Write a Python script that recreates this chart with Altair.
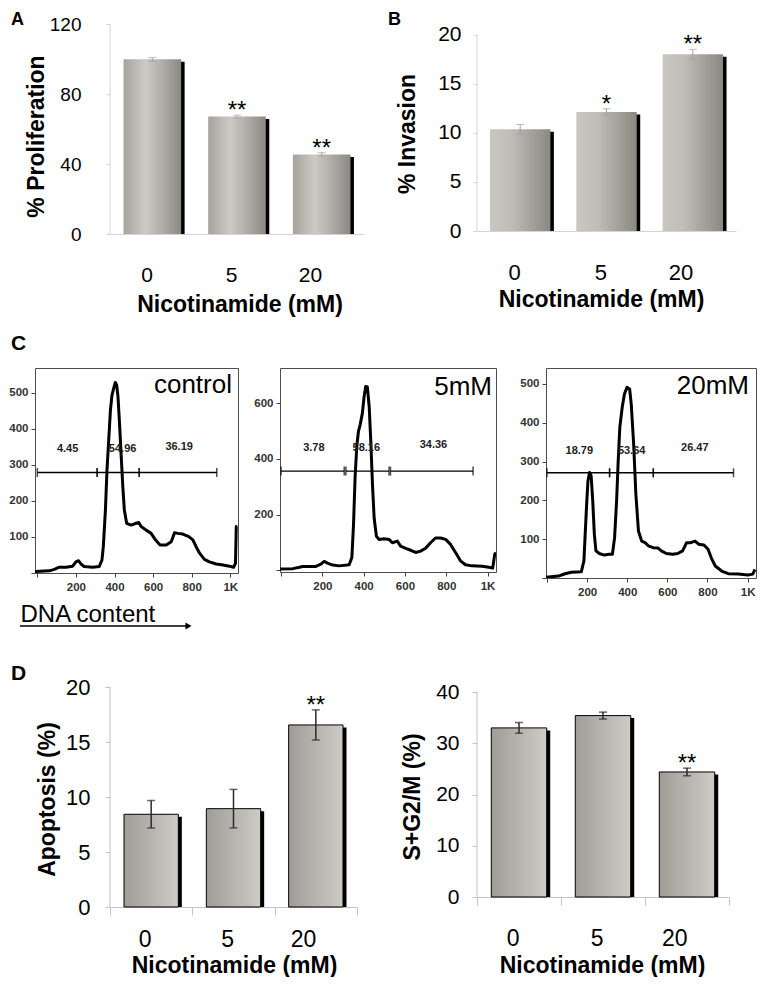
import altair as alt
import pandas as pd

FONT = "Liberation Sans"

# ---------------- bar panels (A, B, D) ----------------
doses = ["0", "5", "20"]

prolif_mean = [99.8, 67.1, 45.5]
prolif_err = [1.0, 0.8, 0.95]
prolif_sig = ["", "**", "**"]

inv_mean = [10.37, 12.14, 18.03]
inv_err = [0.5, 0.33, 0.5]
inv_sig = ["", "*", "**"]

apo_mean = [8.43, 8.94, 16.55]
apo_err = [1.25, 1.75, 1.37]
apo_sig = ["", "", "**"]

sg_mean = [33.0, 35.4, 24.4]
sg_err = [1.05, 0.68, 0.75]
sg_sig = ["", "", "**"]

# ---------------- cell-cycle histograms (C) ----------------
ctrl_x = [-12, 62, 88, 114, 148, 183, 200, 214, 226, 243, 287, 321, 335, 342, 353, 361, 370, 379,
          387, 396, 404, 411, 418, 425, 434, 443, 451, 463, 486, 512, 526, 538, 564, 590, 612, 636,
          668, 694, 711, 728, 754, 785, 806, 823, 841, 866, 892, 927, 962, 996, 1017, 1027, 1031, 1036]
ctrl_y = [4, 6, 10, 16, 16, 19, 31, 34, 25, 18, 16, 18, 36, 73, 175, 286, 369, 453,
          494, 513, 529, 522, 490, 425, 332, 240, 175, 138, 133, 138, 140, 129, 119, 110, 92, 78,
          78, 87, 112, 110, 108, 101, 92, 73, 55, 38, 31, 25, 22, 19, 16, 27, 129, 129]

mm5_x = [-5, 57, 89, 105, 169, 193, 209, 225, 250, 282, 330, 343, 351, 359, 367, 375, 383, 394,
         402, 410, 418, 427, 435, 443, 451, 462, 475, 499, 523, 539, 563, 579, 604, 628, 652, 676,
         700, 724, 748, 772, 797, 821, 845, 869, 893, 925, 974, 1006, 1025, 1035, 1040]
mm5_y = [5, 6, 11, 14, 14, 22, 32, 26, 19, 16, 20, 46, 164, 340, 446, 499, 522, 564,
         622, 660, 658, 587, 458, 305, 187, 122, 111, 113, 111, 99, 105, 87, 79, 72, 64, 69,
         79, 99, 116, 116, 111, 93, 64, 34, 20, 16, 15, 11, 8, 58, 64]

mm20_x = [-5, 57, 90, 122, 171, 184, 196, 204, 212, 220, 228, 236, 244, 261, 285, 310, 326, 337,
          347, 355, 363, 375, 386, 399, 412, 420, 432, 443, 456, 472, 489, 505, 529, 554, 570, 595,
          627, 652, 676, 696, 717, 738, 757, 782, 803, 819, 839, 871, 904, 953, 1002, 1026, 1037]
mm20_y = [2, 5, 11, 15, 16, 44, 173, 250, 272, 263, 199, 113, 70, 63, 59, 61, 61, 104,
          199, 302, 388, 440, 474, 491, 487, 448, 345, 216, 121, 95, 91, 83, 78, 77, 70, 63,
          61, 63, 70, 91, 91, 95, 87, 85, 74, 52, 31, 18, 11, 10, 8, 10, 22]

ctrl_gate_lo = [0, 310, 528]
ctrl_gate_hi = [310, 528, 930]
ctrl_gate_y = 279
ctrl_pct = ["4.45", "54.96", "36.19"]
ctrl_pct_x = [157, 442, 735]
ctrl_pct_y = [343, 343, 349]

mm5_gate_lo = [0, 314, 530]
mm5_gate_hi = [306, 523, 930]
mm5_gate_y = 356
mm5_pct = ["3.78", "58.16", "34.36"]
mm5_pct_x = [159, 413, 738]
mm5_pct_y = [440, 440, 448]

mm20_gate_lo = [0, 312, 530]
mm20_gate_hi = [312, 530, 930]
mm20_gate_y = 271
mm20_pct = ["18.79", "53.64", "26.47"]
mm20_pct_x = [161, 422, 737]
mm20_pct_y = [328, 328, 334]

# ---------------- styles ----------------
GRAD_A = alt.Gradient(gradient="linear", x1=0, x2=1, y1=0, y2=0, stops=[
    alt.GradientStop(offset=0, color="#a6a39f"),
    alt.GradientStop(offset=0.38, color="#cdcac6"),
    alt.GradientStop(offset=0.62, color="#b5b2ad"),
    alt.GradientStop(offset=1, color="#8c8984")])
GRAD_B = alt.Gradient(gradient="linear", x1=0, x2=1, y1=0, y2=0, stops=[
    alt.GradientStop(offset=0, color="#cac7c3"),
    alt.GradientStop(offset=0.35, color="#c0bdb8"),
    alt.GradientStop(offset=1, color="#8b8883")])
GRAD_D = alt.Gradient(gradient="linear", x1=0, x2=1, y1=0, y2=0, stops=[
    alt.GradientStop(offset=0, color="#a09d99"),
    alt.GradientStop(offset=1, color="#cecbc7")])


def bar_panel(means, errs, sigs, *, width, height, ymax, yticks, grad, band, bar_stroke,
              err_color, err_width, ytitle, ytitle_x, ytitle_y, ylab_size, ylab_pad, ytick_size,
              xlab_size, xlab_pad, xticks, xtitle_x, xtitle_y, axis_color, letter=None,
              letter_x=0, letter_y=0, letter_size=21):
    df = pd.DataFrame({
        "dose": doses,
        "mean": means,
        "lo": [m - e for m, e in zip(means, errs)],
        "hi": [m + e for m, e in zip(means, errs)],
        "sig": sigs,
    })
    x_axis = alt.X("dose:N", sort=doses, scale=alt.Scale(paddingInner=0, paddingOuter=0),
                   axis=alt.Axis(title="Nicotinamide (mM)", labelAngle=0, labelFontSize=xlab_size,
                                 labelPadding=xlab_pad, labelBaseline="alphabetic", labelColor="black",
                                 ticks=xticks, tickSize=8 if xticks else 0, tickBand="extent",
                                 tickColor=axis_color, domainColor=axis_color, grid=False,
                                 titleFontSize=23, titleFontWeight="bold", titleColor="black",
                                 titleX=xtitle_x, titleY=xtitle_y, titleAlign="center",
                                 titleBaseline="alphabetic"))
    x_plain = alt.X("dose:N", sort=doses)
    y_axis = alt.Y("mean:Q", scale=alt.Scale(domain=[0, ymax], nice=False, zero=False),
                   axis=alt.Axis(values=yticks, domain=False, grid=False, tickSize=ytick_size,
                                 tickColor=axis_color, labelFontSize=ylab_size, labelPadding=ylab_pad,
                                 labelColor="black", title=ytitle, titleFontSize=23,
                                 titleFontWeight="bold", titleColor="black", titleX=ytitle_x,
                                 titleY=ytitle_y, titleAngle=270, titleAlign="center",
                                 titleBaseline="alphabetic"))
    base = alt.Chart(df)
    axis_line = alt.Chart(pd.DataFrame({"a": [yticks[0]], "b": [yticks[-1]]})).mark_rule(
        color=axis_color, strokeWidth=1).encode(x=alt.value(0), y="a:Q", y2="b:Q")
    shadow = base.mark_bar(color="black", width=alt.RelativeBandSize(band), xOffset=3.5,
                           yOffset=2.5, clip=True).encode(x=x_plain, y="mean:Q")
    bar_kw = dict(color=grad, width=alt.RelativeBandSize(band))
    if bar_stroke:
        bar_kw.update(stroke=bar_stroke, strokeWidth=1)
    bars = base.mark_bar(**bar_kw).encode(x=x_axis, y=y_axis)
    err = base.mark_rule(color=err_color, strokeWidth=err_width).encode(
        x=x_plain, y="lo:Q", y2="hi:Q")
    cap_hi = base.mark_tick(color=err_color, orient="horizontal", size=8, thickness=err_width).encode(
        x=x_plain, y="hi:Q")
    cap_lo = base.mark_tick(color=err_color, orient="horizontal", size=8, thickness=err_width).encode(
        x=x_plain, y="lo:Q")
    stars = base.mark_text(fontSize=24, baseline="alphabetic", dy=3, color="black").encode(
        x=x_plain, y="hi:Q", text="sig:N")
    layers = [axis_line, shadow, bars, err, cap_hi, cap_lo, stars]
    if letter:
        layers.append(alt.Chart(pd.DataFrame({"t": [letter]})).mark_text(
            fontSize=letter_size, fontWeight="bold", align="left", baseline="alphabetic",
            color="black").encode(text="t:N", x=alt.value(letter_x), y=alt.value(letter_y)))
    return alt.layer(*layers).properties(width=width, height=height)


def hist_panel(xs, ys, gate_lo, gate_hi, gate_y, pct, pct_x, pct_y, name, *, width, height,
               xdom, ydom, ystep, ylabstep, name_dx, name_y, extras=(), xtitle=None):
    curve = pd.DataFrame({"x": xs, "y": ys})
    x_kw = dict(values=list(range(0, 1001, 50)), domain=False, grid=False, tickSize=4,
                tickColor="#444444", labelFontSize=11.5, labelFontWeight="bold", labelColor="#333333",
                labelPadding=13, labelBaseline="alphabetic", labelFlush=False, labelOverlap=False,
                labelExpr="datum.value === 1000 ? '1K' : (datum.value > 0 && datum.value % 200 === 0 ? datum.label : '')")
    if xtitle:
        x_kw.update(title=xtitle, titleFontSize=24, titleFontWeight="normal", titleColor="black",
                    titleX=-15, titleY=48, titleAlign="left", titleBaseline="alphabetic")
    else:
        x_kw.update(title=None)
    x_enc = alt.X("x:Q", scale=alt.Scale(domain=xdom, nice=False, zero=False), axis=alt.Axis(**x_kw))
    y_enc = alt.Y("y:Q", scale=alt.Scale(domain=ydom, nice=False, zero=False),
                  axis=alt.Axis(values=list(range(0, int(ydom[1]) + 1, ystep)), domain=False, grid=False,
                                tickSize=4, tickColor="#444444", labelFontSize=11.5,
                                labelFontWeight="bold", labelColor="#333333", labelPadding=3,
                                labelFlush=False, labelOverlap=False, title=None,
                                labelExpr=f"datum.value > 0 && datum.value % {ylabstep} === 0 ? datum.label : ''"))
    line = alt.Chart(curve).mark_line(color="black", strokeWidth=3, clip=True, strokeJoin="round").encode(
        x=x_enc, y=y_enc)
    gdf = pd.DataFrame({"lo": gate_lo, "hi": gate_hi, "gy": [gate_y] * len(gate_lo)})
    gate = alt.Chart(gdf).mark_rule(color="black", strokeWidth=1.4).encode(
        x="lo:Q", x2="hi:Q", y="gy:Q")
    cdf = pd.DataFrame({"pos": gate_lo + gate_hi, "gy": [gate_y] * (2 * len(gate_lo))})
    caps = alt.Chart(cdf).mark_tick(color="black", orient="vertical", size=9, thickness=1.5).encode(
        x="pos:Q", y="gy:Q")
    ldf = pd.DataFrame({"lx": pct_x, "ly": pct_y, "t": pct})
    labels = alt.Chart(ldf).mark_text(fontSize=11, fontWeight="bold", color="#222222",
                                      baseline="middle").encode(
        x="lx:Q", y="ly:Q", text="t:N")
    nm = alt.Chart(pd.DataFrame({"t": [name]})).mark_text(
        fontSize=26, align="right", baseline="alphabetic", color="black").encode(
        text="t:N", x=alt.value(width + name_dx), y=alt.value(name_y))
    return alt.layer(line, gate, caps, labels, nm, *extras).properties(
        width=width, height=height, view=alt.ViewBackground(stroke="#4d4d4d", strokeWidth=1))


def spacer(w):
    return alt.Chart(pd.DataFrame({"s": [0]})).mark_point(opacity=0, size=1).encode(
        x=alt.value(0), y=alt.value(0)).properties(width=w, height=10)


panel_a = bar_panel(prolif_mean, prolif_err, prolif_sig, width=254, height=210, ymax=120,
                    yticks=[0, 40, 80, 120], grad=GRAD_A, band=0.68, bar_stroke=None,
                    err_color="#a0a0a0", err_width=1, ytitle="% Proliferation", ytitle_x=-67,
                    ytitle_y=112, ylab_size=19, ylab_pad=25, ytick_size=4, xlab_size=21,
                    xlab_pad=47, xticks=False, xtitle_x=129.5, xtitle_y=77.5, axis_color="#d4d4d4",
                    letter="A", letter_x=-99, letter_y=1, letter_size=18)

panel_b = bar_panel(inv_mean, inv_err, inv_sig, width=259, height=207, ymax=21.12,
                    yticks=[0, 5, 10, 15, 20], grad=GRAD_B, band=0.70, bar_stroke=None,
                    err_color="#a0a0a0", err_width=1, ytitle="% Invasion", ytitle_x=-63,
                    ytitle_y=109.5, ylab_size=21, ylab_pad=12, ytick_size=4, xlab_size=22,
                    xlab_pad=48, xticks=False, xtitle_x=124, xtitle_y=75, axis_color="#d4d4d4",
                    letter="B", letter_x=-89, letter_y=1, letter_size=18)

panel_dl = bar_panel(apo_mean, apo_err, apo_sig, width=247, height=220, ymax=20,
                     yticks=[0, 5, 10, 15, 20], grad=GRAD_D, band=0.66, bar_stroke="black",
                     err_color="#2a2a2a", err_width=1.5, ytitle="Apoptosis (%)", ytitle_x=-56,
                     ytitle_y=112, ylab_size=22, ylab_pad=15, ytick_size=5, xlab_size=23,
                     xlab_pad=31, xticks=True, xtitle_x=124, xtitle_y=65, axis_color="#c4c4c4",
                     letter="D", letter_x=-99, letter_y=-7)

panel_dr = bar_panel(sg_mean, sg_err, sg_sig, width=252, height=210, ymax=40.98,
                     yticks=[0, 10, 20, 30, 40], grad=GRAD_D, band=0.66, bar_stroke="black",
                     err_color="#2a2a2a", err_width=1.5, ytitle="S+G2/M (%)", ytitle_x=-58,
                     ytitle_y=109.5, ylab_size=21, ylab_pad=13, ytick_size=5, xlab_size=23,
                     xlab_pad=40, xticks=True, xtitle_x=125, xtitle_y=75, axis_color="#c4c4c4")

ctrl_extras = [
    alt.Chart(pd.DataFrame({"t": ["C"]})).mark_text(
        fontSize=21, fontWeight="bold", align="left", baseline="alphabetic", color="black").encode(
        text="t:N", x=alt.value(-24), y=alt.value(-18)),
    alt.Chart(pd.DataFrame({"a": [0]})).mark_rule(color="black", strokeWidth=1.5).encode(
        x=alt.value(-15), x2=alt.value(151), y=alt.value(258)),
    alt.Chart(pd.DataFrame({"a": [0]})).mark_point(
        shape="triangle-right", filled=True, size=50, color="black", opacity=1).encode(
        x=alt.value(153.5), y=alt.value(258)),
]

hist_ctrl = hist_panel(ctrl_x, ctrl_y, ctrl_gate_lo, ctrl_gate_hi, ctrl_gate_y, ctrl_pct,
                       ctrl_pct_x, ctrl_pct_y, "control", width=203, height=205,
                       xdom=[-12, 1040], ydom=[0, 569], ystep=25, ylabstep=100,
                       name_dx=-6, name_y=25, extras=ctrl_extras, xtitle="DNA content")
hist_5 = hist_panel(mm5_x, mm5_y, mm5_gate_lo, mm5_gate_hi, mm5_gate_y, mm5_pct,
                    mm5_pct_x, mm5_pct_y, "5mM", width=216, height=204,
                    xdom=[-5, 1041], ydom=[-6, 726], ystep=50, ylabstep=200,
                    name_dx=-4, name_y=27)
hist_20 = hist_panel(mm20_x, mm20_y, mm20_gate_lo, mm20_gate_hi, mm20_gate_y, mm20_pct,
                     mm20_pct_x, mm20_pct_y, "20mM", width=210, height=210,
                     xdom=[-5, 1042], ydom=[0, 541], ystep=25, ylabstep=100,
                     name_dx=-7, name_y=26)

row1 = alt.hconcat(spacer(75), panel_a, spacer(113), panel_b, spacing=0, bounds="flush")
row2 = alt.hconcat(hist_ctrl, spacer(42), hist_5, spacer(50), hist_20, spacing=0, bounds="flush")
row3 = alt.hconcat(spacer(75), panel_dl, spacer(120), panel_dr, spacing=0, bounds="flush")

top = alt.vconcat(row1, row2, spacing=15)
chart = alt.vconcat(top, row3, spacing=32).properties(
    padding={"top": 3, "bottom": 0, "left": 0, "right": 0}, background="white").configure(
    font=FONT).configure_view(stroke=None).configure_axis(labelFont=FONT, titleFont=FONT)

chart.save("out.html", embed_options={"renderer": "svg", "actions": False})
